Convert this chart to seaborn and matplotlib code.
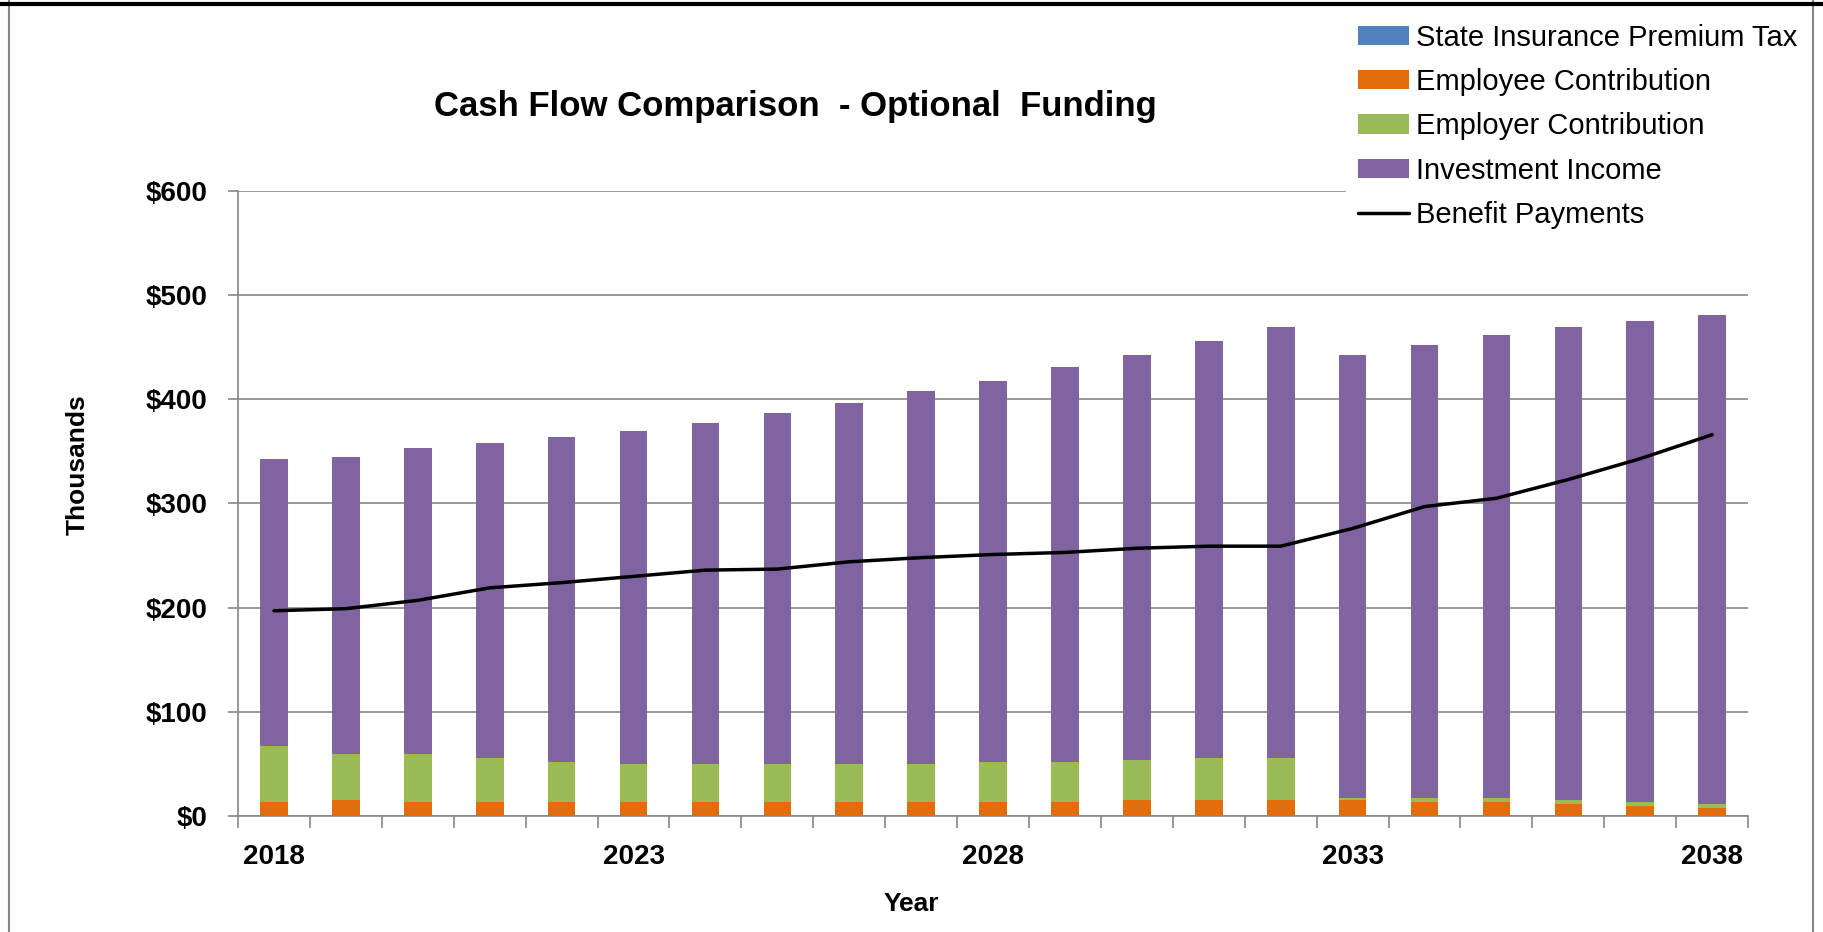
import numpy as np
import matplotlib
matplotlib.use("Agg")
import matplotlib.pyplot as plt
import seaborn as sns
from matplotlib.patches import Patch
from matplotlib.lines import Line2D

# ---------------- data (thousands of $) ----------------
years = [2018, 2019, 2020, 2021, 2022, 2023, 2024, 2025, 2026, 2027, 2028,
         2029, 2030, 2031, 2032, 2033, 2034, 2035, 2036, 2037, 2038]
premium_tax = [0, 0, 0, 0, 0, 0, 0, 0, 0, 0, 0, 0, 0, 0, 0, 0, 0, 0, 0, 0, 0]
employee = [13.1, 15.0, 13.4, 13.1, 13.1, 13.1, 13.1, 13.1, 13.1, 13.1, 13.1,
            13.1, 15.0, 15.0, 15.0, 15.0, 13.1, 13.1, 11.2, 9.3, 7.3]
employer = [54.2, 44.6, 46.2, 42.7, 38.9, 37.0, 37.0, 37.0, 37.0, 37.0, 38.9,
            38.9, 38.9, 40.8, 40.8, 2.5, 4.4, 4.4, 4.4, 4.4, 4.5]
investment = [275.7, 285.4, 293.4, 302.2, 312.0, 319.9, 326.9, 336.9, 345.9,
              357.9, 366.0, 379.0, 389.1, 400.2, 413.2, 425.5, 434.5, 444.5,
              453.4, 461.3, 469.2]
benefits = [197, 199, 207, 219, 224, 230, 236, 237, 244, 248, 251, 253, 257,
            259, 259, 276, 297, 305, 323, 343, 366]
label_years = [2018, 2023, 2028, 2033, 2038]
y_ticks = [0, 100, 200, 300, 400, 500, 600]

series_names = ["State Insurance Premium Tax", "Employee Contribution",
                "Employer Contribution", "Investment Income"]
series_vals = [premium_tax, employee, employer, investment]
series_cols = ["#4F81BD", "#E46C0A", "#9BBB59", "#8064A2"]

sns.set_theme(style="white")
plt.rcParams['font.family'] = ['Liberation Sans', 'DejaVu Sans']
plt.rcParams['text.color'] = 'black'
plt.rcParams['axes.labelcolor'] = 'black'
plt.rcParams['xtick.color'] = 'black'
plt.rcParams['ytick.color'] = 'black'

fig = plt.figure(figsize=(18.24, 9.32), dpi=100, facecolor="white")
ax = fig.add_axes([0.1305, 0.1245, 0.8279, 0.6706])

grid_col = "#868686"
cats = [str(y) for y in years]
cum = np.cumsum(np.array(series_vals, dtype=float), axis=0)
# draw stacked bars, top layer first
for i in range(len(series_vals) - 1, -1, -1):
    sns.barplot(x=cats, y=cum[i], color=series_cols[i], saturation=1,
                width=0.385, errorbar=None, ax=ax, zorder=2, linewidth=0,
                edgecolor="none")

sns.lineplot(x=np.arange(len(years)), y=benefits, color="black", linewidth=2.5,
             ax=ax, zorder=3, legend=False)

ax.set_xlim(-0.5, len(years) - 0.5)
ax.set_ylim(0, 600)
ax.set_yticks(y_ticks)
ax.set_yticklabels([f"${v:,}" for v in y_ticks])
ax.set_xticks([years.index(y) for y in label_years])
ax.set_xticklabels([str(y) for y in label_years])
ax.set_xticks(np.arange(-0.5, len(years), 1.0), minor=True)

ax.yaxis.grid(True, color=grid_col, linewidth=1.2)
ax.xaxis.grid(False)
ax.set_axisbelow(True)
for s in ["top", "right"]:
    ax.spines[s].set_visible(False)
for s in ["left", "bottom"]:
    ax.spines[s].set_color(grid_col)
    ax.spines[s].set_linewidth(1.2)

ax.tick_params(axis="y", which="major", direction="out", length=7.5, width=1.2,
               color=grid_col, labelcolor="black", pad=14.5, labelsize=20,
               left=True)
ax.tick_params(axis="x", which="major", length=0, pad=20, labelsize=20,
               labelcolor="black", bottom=True)
ax.tick_params(axis="x", which="minor", direction="out", length=8.5, width=1.2,
               color=grid_col, bottom=True)
for lab in ax.get_xticklabels() + ax.get_yticklabels():
    lab.set_fontweight("bold")

ax.set_xlabel("Year", fontsize=19, fontweight="bold", color="black")
ax.xaxis.set_label_coords(0.4457, -0.122)
ax.set_ylabel("Thousands", fontsize=19, fontweight="bold", color="black")
ax.yaxis.set_label_coords(-0.098, 0.5616)

fig.text(0.436, 0.886, "Cash Flow Comparison  - Optional  Funding",
         ha="center", va="center", fontsize=25, fontweight="bold", color="black")

handles = [Patch(facecolor=c, edgecolor="none") for c in series_cols]
handles.append(Line2D([0], [0], color="black", linewidth=2.5))
labels = series_names + ["Benefit Payments"]
leg = fig.legend(handles, labels, loc="upper left",
                 bbox_to_anchor=(1346 / 1824, 1 - 12 / 932), frameon=True,
                 facecolor="white", edgecolor="none", fancybox=False,
                 framealpha=1, fontsize=21, handlelength=1.75, handleheight=0.65,
                 handletextpad=0.25, labelspacing=0.56, borderpad=0.4,
                 borderaxespad=0, labelcolor="black")

# outer chart border
fig.add_artist(Line2D([9 / 1824, 9 / 1824], [0, 1], transform=fig.transFigure,
                      color=grid_col, linewidth=1.5, zorder=10))
fig.add_artist(Line2D([1813 / 1824, 1813 / 1824], [0, 1], transform=fig.transFigure,
                      color=grid_col, linewidth=1.5, zorder=10))
fig.add_artist(Line2D([0, 1], [1 - 4 / 932, 1 - 4 / 932], transform=fig.transFigure,
                      color="black", linewidth=3, zorder=11))

fig.savefig("out.png", dpi=100, facecolor="white")
